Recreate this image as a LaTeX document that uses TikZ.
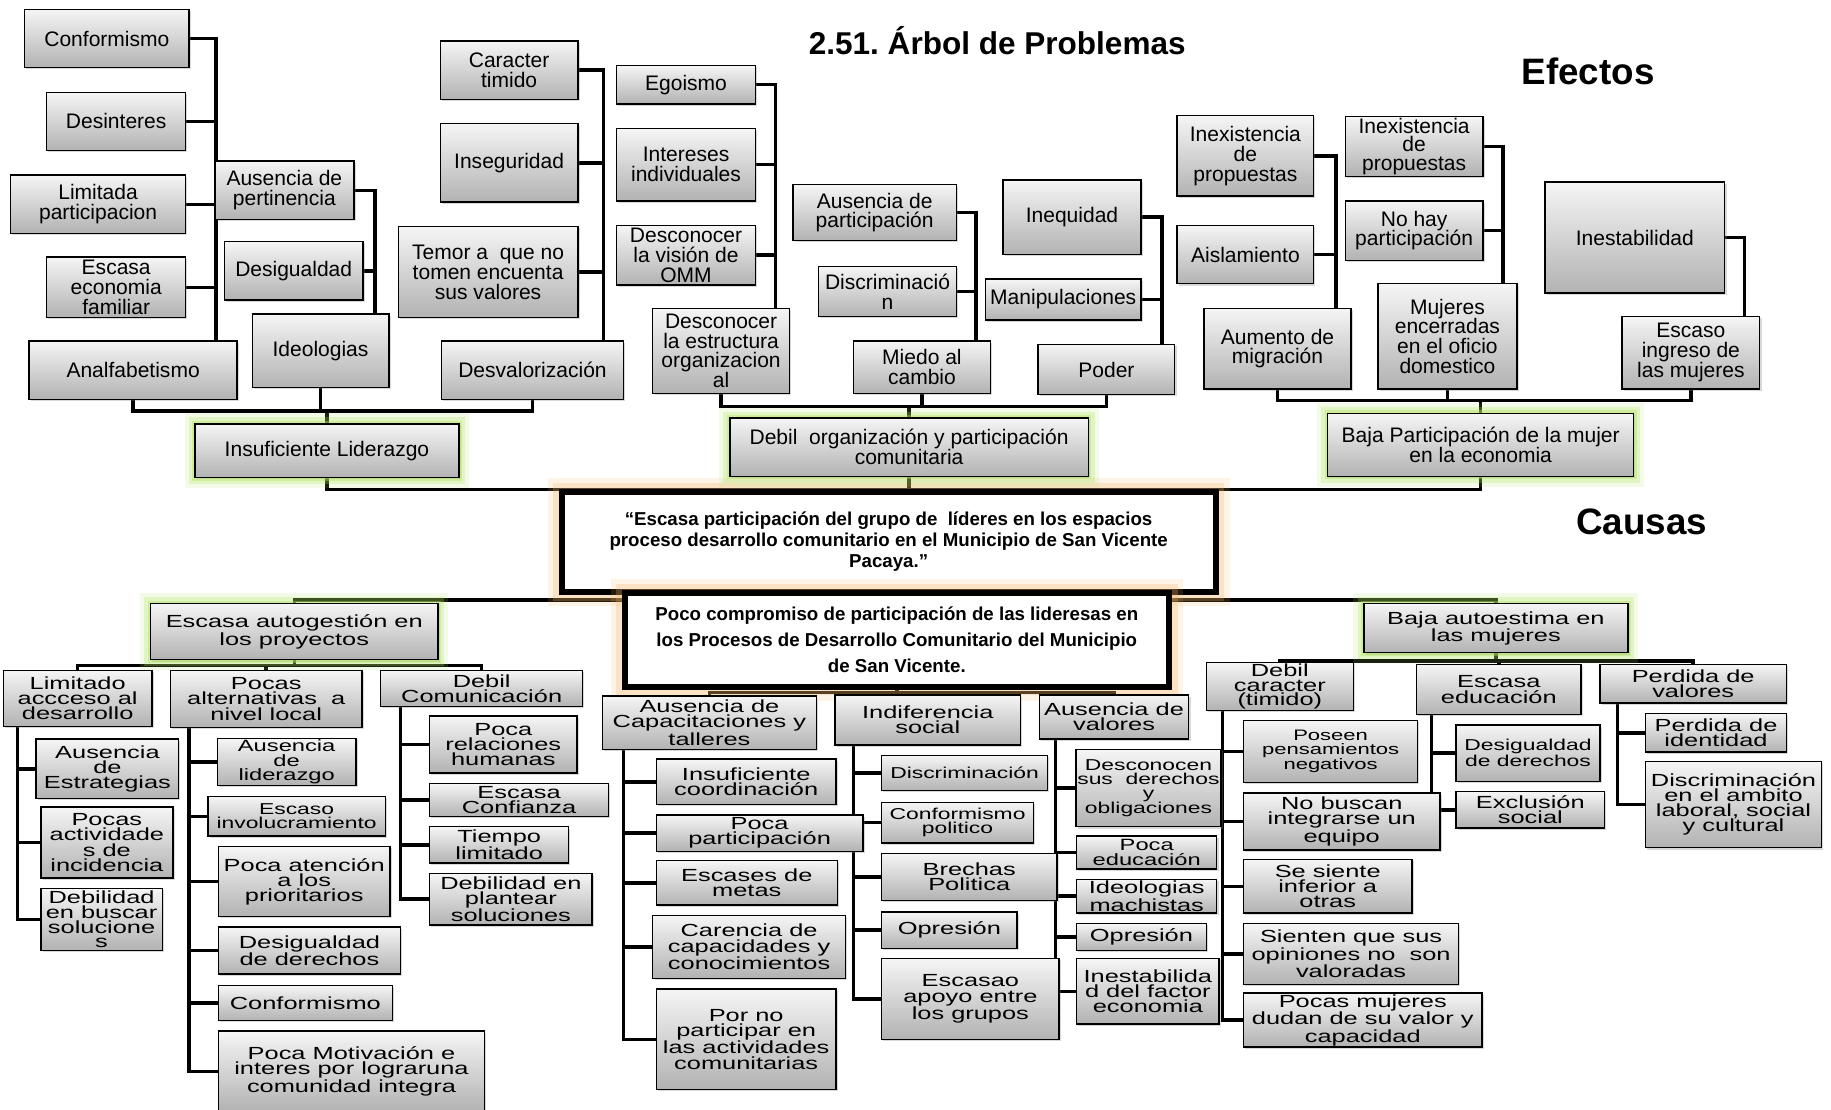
\documentclass[tikz,border=0pt]{standalone}
\usepackage{fontspec}
\setmainfont{Liberation Sans}
\newfontfamily\wf[FakeStretch=1.45]{Liberation Sans}
\usetikzlibrary{shadows}
\pgfdeclarelayer{back}\pgfdeclarelayer{bg}
\pgfsetlayers{back,bg,main}
\frenchspacing
\definecolor{boxtop}{RGB}{245,245,245}
\definecolor{boxbot}{RGB}{178,178,178}
\definecolor{glowg}{RGB}{175,228,95}
\definecolor{glowo}{RGB}{246,178,95}
\newcommand\bx[7][]{\node[box,#1,minimum width={(#5-#3)*1pt},minimum height={(#6-#4)*1pt}] (#2) at ({(#3+#5)/2},{(#4+#6)/2}) {#7};}
\tikzset{
 basebox/.style={draw=black, line width=1.2pt, top color=boxtop, bottom color=boxbot, align=center, inner xsep=1pt, inner ysep=1pt, font=\fontsize{18}{17}\selectfont},
 box/.style={basebox, drop shadow={shadow xshift=1.5pt, shadow yshift=-1.5pt, opacity=0.3}},
 gbox/.style={basebox, preaction={draw=glowg, line width=18pt, opacity=0.15}, preaction={draw=glowg, line width=11pt, opacity=0.25}, preaction={draw=glowg, line width=5pt, opacity=0.4}},
 obox/.style={draw=black, line width=5pt, fill=white, align=center, font=\bfseries\fontsize{16}{18}\selectfont, preaction={draw=glowo, line width=24pt, opacity=0.15}, preaction={draw=glowo, line width=15pt, opacity=0.25}},
 wide/.style={font=\wf\fontsize{15}{13}\selectfont},
 fs/.style 2 args={font=\wf\fontsize{#1}{#2}\selectfont},
 conn/.style={draw=black, line width=3pt, line join=miter},
 heading/.style={font=\bfseries\fontsize{#1}{#1}\selectfont}
}
\begin{document}
\begin{tikzpicture}[x=1pt,y=-1pt]
\useasboundingbox (0,0) rectangle (1568,950);
\begin{pgfonlayer}{back}\fill[white] (0,0) rectangle (1568,950);\end{pgfonlayer}

\node[heading=27] (title) at (854,35) {2.51. Árbol de Problemas};
\node[heading=31.5] (efectos) at (1360,61) {Efectos};
\node[heading=31.5] (causas) at (1406,447) {Causas};

% central boxes
\node[obox, minimum width=560pt, minimum height=86pt] (mainp) at (761,464) {“Escasa participación del grupo de \ líderes en los espacios\\proceso desarrollo comunitario en el Municipio de San Vicente\\Pacaya.”};
\node[obox, font=\bfseries\fontsize{16}{22}\selectfont, minimum width=466pt, minimum height=80pt] (poco) at (768,548) {Poco compromiso de participación de las lideresas en\\los Procesos de Desarrollo Comunitario del Municipio\\de San Vicente.};

% ---------- Efectos ----------
\bx{conf}{21}{8}{162}{58}{Conformismo}
\bx{desi}{40}{79}{159}{129}{Desinteres}
\bx{lim}{9}{150}{159}{200}{Limitada\\participacion}
\bx{esc}{40}{220}{159}{272}{Escasa\\economia\\familiar}
\bx{anal}{25}{292}{203}{342}{Analfabetismo}
\bx{ausp}{184}{138}{303}{188}{Ausencia de\\pertinencia}
\bx{desig}{192}{207}{311}{257}{Desigualdad}
\bx{ideo}{216}{269}{333}{332}{Ideologias}
\bx{cara}{377}{35}{495}{85}{Caracter\\timido}
\bx{inse}{377}{106}{495}{173}{Inseguridad}
\bx{temor}{341}{194}{495}{272}{Temor a \ que no\\tomen encuenta\\sus valores}
\bx{desv}{378}{292}{534}{342}{Desvalorización}
\bx{ego}{528}{56}{647}{89}{Egoismo}
\bx{inter}{528}{110}{647}{172}{Intereses\\individuales}
\bx{omm}{528}{193}{647}{244}{Desconocer\\la visión de\\OMM}
\bx{desest}{559}{264}{676}{337}{Desconocer\\la estructura\\organizacion\\al}
\bx{auspa}{679}{158}{819}{206}{Ausencia de\\participación}
\bx{discr}{701}{228}{819}{271}{Discriminació\\n}
\bx{miedo}{731}{292}{848}{337}{Miedo al\\cambio}
\bx{ineq}{859}{154}{977}{218}{Inequidad}
\bx{manip}{844}{239}{977}{274}{Manipulaciones}
\bx{poder}{889}{295}{1006}{338}{Poder}
\bx{inex1}{1008}{99}{1125}{168}{Inexistencia\\de\\propuestas}
\bx{aisl}{1008}{193}{1125}{243}{Aislamiento}
\bx{aum}{1031}{264}{1157}{333}{Aumento de\\migración}
\bx[font=\fontsize{18}{16}\selectfont]{inex2}{1152}{100}{1270}{151}{Inexistencia\\de\\propuestas}
\bx{nohay}{1152}{172}{1270}{223}{No hay\\participación}
\bx{muj}{1180}{243}{1299}{333}{Mujeres\\encerradas\\en el oficio\\domestico}
\bx{inest}{1323}{156}{1477}{251}{Inestabilidad}
\bx{escing}{1389}{271}{1507}{333}{Escaso\\ingreso de\\las mujeres}
\bx[gbox]{insl}{167}{363}{393}{409}{Insuficiente Liderazgo}
\bx[gbox]{debo}{625}{358}{932}{408}{Debil \ organización y participación\\comunitaria}
\bx[gbox]{bajam}{1137}{354}{1399}{408}{Baja Participación de la mujer\\en la economia}

% ---------- Causas ----------
\bx[gbox,wide]{escaut}{129}{517}{375}{565}{Escasa autogestión en\\los proyectos}
\bx[wide]{limac}{3}{574}{130}{622}{Limitado\\accceso al\\desarrollo}
\bx[wide]{pocalt}{146}{574}{310}{623}{Pocas\\alternativas \ a\\nivel local}
\bx[wide]{debcom}{326}{574}{499}{605}{Debil\\Comunicación}
\bx[wide]{ausest}{31}{633}{153}{684}{Ausencia\\de\\Estrategias}
\bx[wide]{pocact}{35}{691}{148}{752}{Pocas\\actividade\\s de\\incidencia}
\bx[fs={15}{12.5}]{debbus}{35}{761}{139}{814}{Debilidad\\en buscar\\solucione\\s}
\bx[fs={14}{12.5}]{ausl}{186}{633}{305}{672}{Ausencia\\de\\liderazgo}
\bx[fs={13.5}{12}]{escinv}{178}{682}{330}{716}{Escaso\\involucramiento}
\bx[wide]{pocaat}{187}{725}{334}{785}{Poca atención\\a los\\prioritarios}
\bx[wide]{desder}{187}{794}{343}{834}{Desigualdad\\de derechos}
\bx[wide]{conf2}{187}{844}{336}{874}{Conformismo}
\bx[wide]{pocamot}{187}{883}{415}{952}{Poca Motivación e\\interes por lograruna\\comunidad integra}
\bx[wide]{pocarel}{368}{613}{494}{662}{Poca\\relaciones\\humanas}
\bx[wide]{escconf}{368}{671}{521}{699}{Escasa\\Confianza}
\bx[wide]{tiempo}{368}{708}{487}{739}{Tiempo\\limitado}
\bx[wide]{debplant}{368}{748}{507}{792}{Debilidad en\\plantear\\soluciones}

\bx[wide]{auscap}{516}{596}{699}{642}{Ausencia de\\Capacitaciones y\\talleres}
\bx[wide]{indif}{715}{595}{874}{638}{Indiferencia\\social}
\bx[wide]{ausval}{890}{595}{1018}{633}{Ausencia de\\valores}
\bx[wide]{insuf}{562}{650}{716}{689}{Insuficiente\\coordinación}
\bx[wide]{escmet}{562}{737}{717}{775}{Escases de\\metas}
\bx[wide]{caren}{559}{784}{724}{838}{Carencia de\\capacidades y\\conocimientos}
\bx[wide]{porno}{562}{847}{716}{933}{Por no\\participar en\\las actividades\\comunitarias}
\bx[fs={13.5}{12}]{discr2}{755}{647}{897}{677}{Discriminación}
\bx[fs={13.5}{12}]{confpol}{755}{687}{885}{722}{Conformismo\\politico}
\bx[wide]{brech}{755}{731}{905}{771}{Brechas\\Politica}
\bx[wide]{opres1}{755}{781}{871}{812}{Opresión}
\bx[wide]{escapo}{755}{821}{907}{890}{Escasao\\apoyo entre\\los grupos}
\bx[wide]{pocapart}{562}{698}{739}{729}{Poca\\participación}
\bx[fs={13.5}{12}]{descon}{922}{642}{1045}{708}{Desconocen\\sus \ derechos\\y\\obligaciones}
\bx[fs={14}{12}]{pocaed}{922}{716}{1042}{744}{Poca\\educación}
\bx[wide]{ideom}{922}{753}{1042}{782}{Ideologias\\machistas}
\bx[wide]{opres2}{922}{791}{1033}{814}{Opresión}
\bx[wide]{inestf}{922}{821}{1044}{877}{Inestabilida\\d del factor\\economia}

\bx[gbox,wide]{bajaaut}{1168}{517}{1394}{559}{Baja autoestima en\\las mujeres}
\bx[fs={15}{12.5}]{debcar}{1033}{569}{1159}{607}{Debil\\caracter\\(timido)}
\bx[wide]{escedu}{1213}{569}{1354}{612}{Escasa\\educación}
\bx[wide]{perval}{1370}{569}{1530}{602}{Perdida de\\valores}
\bx[fs={13}{11.5}]{poseen}{1065}{617}{1214}{670}{Poseen\\pensamientos\\negativos}
\bx[wide]{nobus}{1065}{679}{1233}{728}{No buscan\\integrarse un\\equipo}
\bx[wide]{sesi}{1065}{736}{1209}{782}{Se siente\\inferior a\\otras}
\bx[wide]{sient}{1065}{791}{1249}{843}{Sienten que sus\\opiniones no \ son\\valoradas}
\bx[wide]{pocamuj}{1065}{851}{1269}{896}{Pocas mujeres\\dudan de su valor y\\capacidad}
\bx[fs={13.5}{11.5}]{desigd}{1247}{621}{1370}{669}{Desigualdad\\de derechos}
\bx[wide]{exclu}{1247}{678}{1374}{709}{Exclusión\\social}
\bx[wide]{perid}{1409}{611}{1530}{644}{Perdida de\\identidad}
\bx[wide]{discamb}{1409}{652}{1560}{726}{Discriminación\\en el ambito\\laboral, social\\y cultural}

% bus coordinates
\coordinate (v1) at (185,0); \coordinate (v2) at (321,0); \coordinate (v3) at (517,0);
\coordinate (v4) at (664,0); \coordinate (v5) at (836,0); \coordinate (v6) at (995,0);
\coordinate (v7) at (1144,0); \coordinate (v8) at (1287,0); \coordinate (v9) at (1494,0);
\coordinate (v10) at (15,0); \coordinate (v11) at (162,0); \coordinate (v12) at (343,0);
\coordinate (v13) at (534,0); \coordinate (v14) at (731,0); \coordinate (v15) at (904,0);
\coordinate (v16) at (1047,0); \coordinate (v17) at (1226,0); \coordinate (v18) at (1385,0);
\coordinate (h1) at (0,352); \coordinate (h2) at (0,348); \coordinate (h3) at (0,343);
\coordinate (h4) at (0,419); \coordinate (h5) at (0,514); \coordinate (h6) at (0,593);
\coordinate (h7) at (0,570); \coordinate (h8) at (0,566);

\begin{pgfonlayer}{bg}
% Efectos
\draw[conn] (conf.east) -| (v1 |- anal.north);
\foreach \nn in {desi,lim,esc} \draw[conn] (\nn.east) -- (\nn.east -| v1);
\draw[conn] (ausp.east) -| (v2 |- ideo.north);
\draw[conn] (desig.east) -- (desig.east -| v2);
\draw[conn] (cara.east) -| (v3 |- desv.north);
\foreach \nn in {inse,temor} \draw[conn] (\nn.east) -- (\nn.east -| v3);
\draw[conn] (anal.south) |- (h1 -| desv.south) -- (desv.south);
\draw[conn] (ideo.south) -- (ideo.south |- h1);
\draw[conn] (insl.north) -- (insl.north |- h1);
\draw[conn] (ego.east) -| (v4 |- desest.north);
\foreach \nn in {inter,omm} \draw[conn] (\nn.east) -- (\nn.east -| v4);
\draw[conn] (auspa.east) -| (v5 |- miedo.north);
\draw[conn] (discr.east) -- (discr.east -| v5);
\draw[conn] (ineq.east) -| (v6 |- poder.north);
\draw[conn] (manip.east) -- (manip.east -| v6);
\draw[conn] (desest.south) |- (h2 -| poder.south) -- (poder.south);
\draw[conn] (miedo.south) -- (miedo.south |- h2);
\draw[conn] (debo.north) -- (debo.north |- h2);
\draw[conn] (inex1.east) -| (v7 |- aum.north);
\draw[conn] (aisl.east) -- (aisl.east -| v7);
\draw[conn] (inex2.east) -| (v8 |- muj.north);
\draw[conn] (nohay.east) -- (nohay.east -| v8);
\draw[conn] (inest.east) -| (v9 |- escing.north);
\draw[conn] (aum.south) |- (h3 -| escing.south) -- (escing.south);
\draw[conn] (muj.south) -- (muj.south |- h3);
\draw[conn] (bajam.north) -- (bajam.north |- h3);
% centre
\draw[conn] (insl.south) |- (h4 -| bajam.south) -- (bajam.south);
\draw[conn] (debo.south) -- (debo.south |- h4);
\draw[conn] (escaut.north) |- (h5 -| bajaaut.north) -- (bajaaut.north);
\draw[conn] (poco.south) -- (poco.south |- h6);
\draw[conn] (auscap.north) |- (h6 -| ausval.north) -- (ausval.north);
\draw[conn] (indif.north) -- (indif.north |- h6);
% Causas left
\draw[conn] (limac.north) |- (h7 -| debcom.north) -- (debcom.north);
\draw[conn] (pocalt.north) -- (pocalt.north |- h7);
\draw[conn] (escaut.south) -- (escaut.south |- h7);
\draw[conn] (v10 |- limac.south) |- (debbus.west);
\foreach \nn in {ausest,pocact} \draw[conn] (\nn.west) -- (\nn.west -| v10);
\draw[conn] (v11 |- pocalt.south) |- (pocamot.west);
\foreach \nn in {ausl,escinv,pocaat,desder,conf2} \draw[conn] (\nn.west) -- (\nn.west -| v11);
\draw[conn] (v12 |- debcom.south) |- (debplant.west);
\foreach \nn in {pocarel,escconf,tiempo} \draw[conn] (\nn.west) -- (\nn.west -| v12);
% Causas centre
\draw[conn] (v13 |- auscap.south) |- (porno.west);
\foreach \nn in {insuf,pocapart,escmet,caren} \draw[conn] (\nn.west) -- (\nn.west -| v13);
\draw[conn] (v14 |- indif.south) |- (escapo.west);
\foreach \nn in {discr2,confpol,brech,opres1} \draw[conn] (\nn.west) -- (\nn.west -| v14);
\draw[conn] (v15 |- ausval.south) |- (inestf.west);
\foreach \nn in {descon,pocaed,ideom,opres2} \draw[conn] (\nn.west) -- (\nn.west -| v15);
% Causas right
\draw[conn] (bajaaut.south) -- (bajaaut.south |- h8);
\draw[conn] (debcar.north) |- (h8 -| perval.north) -- (perval.north);
\draw[conn] (escedu.north) -- (escedu.north |- h8);
\draw[conn] (v16 |- debcar.south) |- (pocamuj.west);
\foreach \nn in {poseen,nobus,sesi,sient} \draw[conn] (\nn.west) -- (\nn.west -| v16);
\draw[conn] (v17 |- escedu.south) |- (exclu.west);
\draw[conn] (desigd.west) -- (desigd.west -| v17);
\draw[conn] (v18 |- perval.south) |- (discamb.west);
\draw[conn] (perid.west) -- (perid.west -| v18);
\end{pgfonlayer}
\end{tikzpicture}
\end{document}
